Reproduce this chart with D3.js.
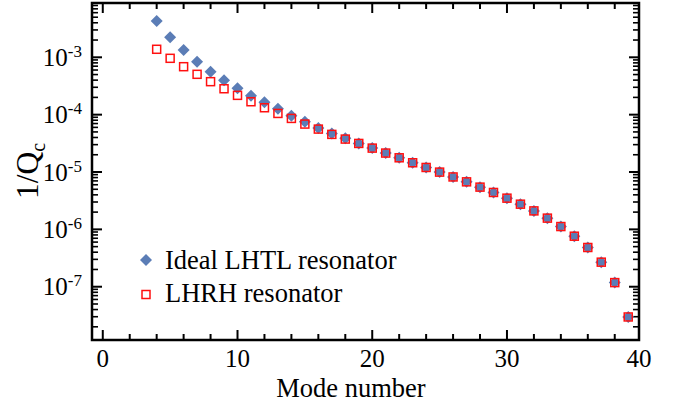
<!DOCTYPE html>
<html>
<head>
<meta charset="utf-8">
<script src="https://cdn.jsdelivr.net/npm/d3@7"></script>
<style>
  html, body { margin: 0; padding: 0; background: #fff; }
  svg { display: block; }
</style>
</head>
<body>
<svg id="chart" width="686" height="409"></svg>
<script>
// ---- data ----
const modes = [4,5,6,7,8,9,10,11,12,13,14,15,16,17,18,19,20,21,22,23,24,25,26,27,28,29,30,31,32,33,34,35,36,37,38,39];
const idealLHTL = [4.3e-3,2.23e-3,1.34e-3,8.4e-4,5.6e-4,3.97e-4,2.88e-4,2.14e-4,1.64e-4,1.27e-4,
  9.6e-5,7.5e-5,5.83e-5,4.71e-5,3.86e-5,3.15e-5,2.61e-5,2.14e-5,1.77e-5,1.45e-5,
  1.2e-5,9.96e-6,8.2e-6,6.74e-6,5.45e-6,4.4e-6,3.5e-6,2.75e-6,2.1e-6,1.57e-6,
  1.12e-6,7.6e-7,4.83e-7,2.68e-7,1.18e-7,2.97e-8];
const lhrh = [1.38e-3,9.6e-4,6.86e-4,5.05e-4,3.76e-4,2.83e-4,2.17e-4,1.68e-4,1.32e-4,1.05e-4,
  8.6e-5,6.85e-5,5.6e-5,4.53e-5,3.75e-5,3.15e-5,2.61e-5,2.14e-5,1.77e-5,1.45e-5,
  1.2e-5,9.96e-6,8.2e-6,6.74e-6,5.45e-6,4.4e-6,3.5e-6,2.75e-6,2.1e-6,1.57e-6,
  1.12e-6,7.6e-7,4.83e-7,2.68e-7,1.18e-7,2.97e-8];
const xTickValues = [0,10,20,30,40];
const yTickExponents = [-3,-4,-5,-6,-7];
const seriesNames = ["Ideal LHTL resonator", "LHRH resonator"];
const xTitle = "Mode number";

// ---- layout ----
const FONT = "'Liberation Serif', 'Times New Roman', Times, 'DejaVu Serif', serif";
const L = 92, R = 639, T = 3, B = 340;
const svg = d3.select("#chart").attr("font-family", FONT);
const x = d3.scaleLinear().domain([-0.8, 39.8]).range([L, R]).clamp(true);
const y = d3.scaleLog().domain([1.178e-8, 8.846e-3]).range([B, T]);

const blue = "#5b7db6", red = "#ff1010";

// minor ticks
const xMinor = d3.range(0, 40, 2).filter(v => v % 10 !== 0);
const yMinor = [];
for (let e = -9; e <= -2; e++) for (let m = 2; m <= 9; m++) {
  const v = m * Math.pow(10, e);
  if (v > y.domain()[0] && v < y.domain()[1]) yMinor.push(v);
}
const yMajor = yTickExponents.map(e => Math.pow(10, e));

const g = svg.append("g");
const tickW = 2;
// bottom & top ticks
[[B, -1], [T, 1]].forEach(([yy, dir]) => {
  g.selectAll(null).data(xTickValues).enter().append("line")
    .attr("x1", d => x(d)).attr("x2", d => x(d))
    .attr("y1", yy).attr("y2", yy + dir * 10)
    .attr("stroke", "#000").attr("stroke-width", tickW);
  g.selectAll(null).data(xMinor).enter().append("line")
    .attr("x1", d => x(d)).attr("x2", d => x(d))
    .attr("y1", yy).attr("y2", yy + dir * 6)
    .attr("stroke", "#000").attr("stroke-width", tickW);
});
// left & right ticks
[[L, 1], [R, -1]].forEach(([xx, dir]) => {
  g.selectAll(null).data(yMajor).enter().append("line")
    .attr("y1", d => y(d)).attr("y2", d => y(d))
    .attr("x1", xx).attr("x2", xx + dir * 10)
    .attr("stroke", "#000").attr("stroke-width", tickW);
  g.selectAll(null).data(yMinor).enter().append("line")
    .attr("y1", d => y(d)).attr("y2", d => y(d))
    .attr("x1", xx).attr("x2", xx + dir * 6)
    .attr("stroke", "#000").attr("stroke-width", 1.6);
});

// frame
g.append("rect").attr("x", L).attr("y", T).attr("width", R - L).attr("height", B - T)
  .attr("fill", "none").attr("stroke", "#000").attr("stroke-width", 2.5);

// x tick labels
g.selectAll(null).data(xTickValues).enter().append("text")
  .attr("font-family", FONT)
  .attr("x", d => x(d)).attr("y", 367)
  .attr("text-anchor", "middle").attr("font-size", 25)
  .text(d => d);

// y tick labels
yTickExponents.forEach(e => {
  const t = g.append("text").attr("font-family", FONT)
    .attr("x", 82).attr("y", y(Math.pow(10, e)) + 8.5)
    .attr("text-anchor", "end").attr("font-size", 25);
  t.append("tspan").text("10");
  t.append("tspan").attr("font-size", 17).attr("dy", -9).text("-" + Math.abs(e));
});

// axis titles
svg.append("text").attr("font-family", FONT).attr("x", 351).attr("y", 397)
  .attr("text-anchor", "middle").attr("font-size", 26.5).text(xTitle);
const yt = svg.append("text").attr("font-family", FONT)
  .attr("transform", "translate(38,171) rotate(-90)")
  .attr("text-anchor", "middle").attr("font-size", 31.5);
yt.append("tspan").text("1/Q");
yt.append("tspan").attr("font-size", 20).attr("dy", 6.5).text("c");

// markers
function diamondPath(cx, cy, r) {
  const p = d3.path();
  p.moveTo(cx, cy - r); p.lineTo(cx + r, cy); p.lineTo(cx, cy + r); p.lineTo(cx - r, cy); p.closePath();
  return p.toString();
}
const sq = 8;
const dataIdeal = modes.map((m, i) => ({m, v: idealLHTL[i]}));
const dataLHRH = modes.map((m, i) => ({m, v: lhrh[i]}));
svg.append("g").selectAll("path").data(dataIdeal).enter().append("path")
  .attr("d", d => diamondPath(x(d.m), y(d.v), 6)).attr("fill", blue);
svg.append("g").selectAll("rect").data(dataLHRH).enter().append("rect")
  .attr("x", d => x(d.m) - sq / 2).attr("y", d => y(d.v) - sq / 2)
  .attr("width", sq).attr("height", sq)
  .attr("fill", "none").attr("stroke", red).attr("stroke-width", 1.5);

// legend
const lg = svg.append("g");
lg.append("path").attr("d", diamondPath(146, 260, 6)).attr("fill", blue);
lg.append("rect").attr("x", 146 - sq / 2).attr("y", 294.5 - sq / 2).attr("width", sq).attr("height", sq)
  .attr("fill", "none").attr("stroke", red).attr("stroke-width", 1.5);
lg.append("text").attr("font-family", FONT).attr("x", 165).attr("y", 268.5).attr("font-size", 26.5).text(seriesNames[0]);
lg.append("text").attr("font-family", FONT).attr("x", 165).attr("y", 302).attr("font-size", 26.5).text(seriesNames[1]);
</script>
</body>
</html>
